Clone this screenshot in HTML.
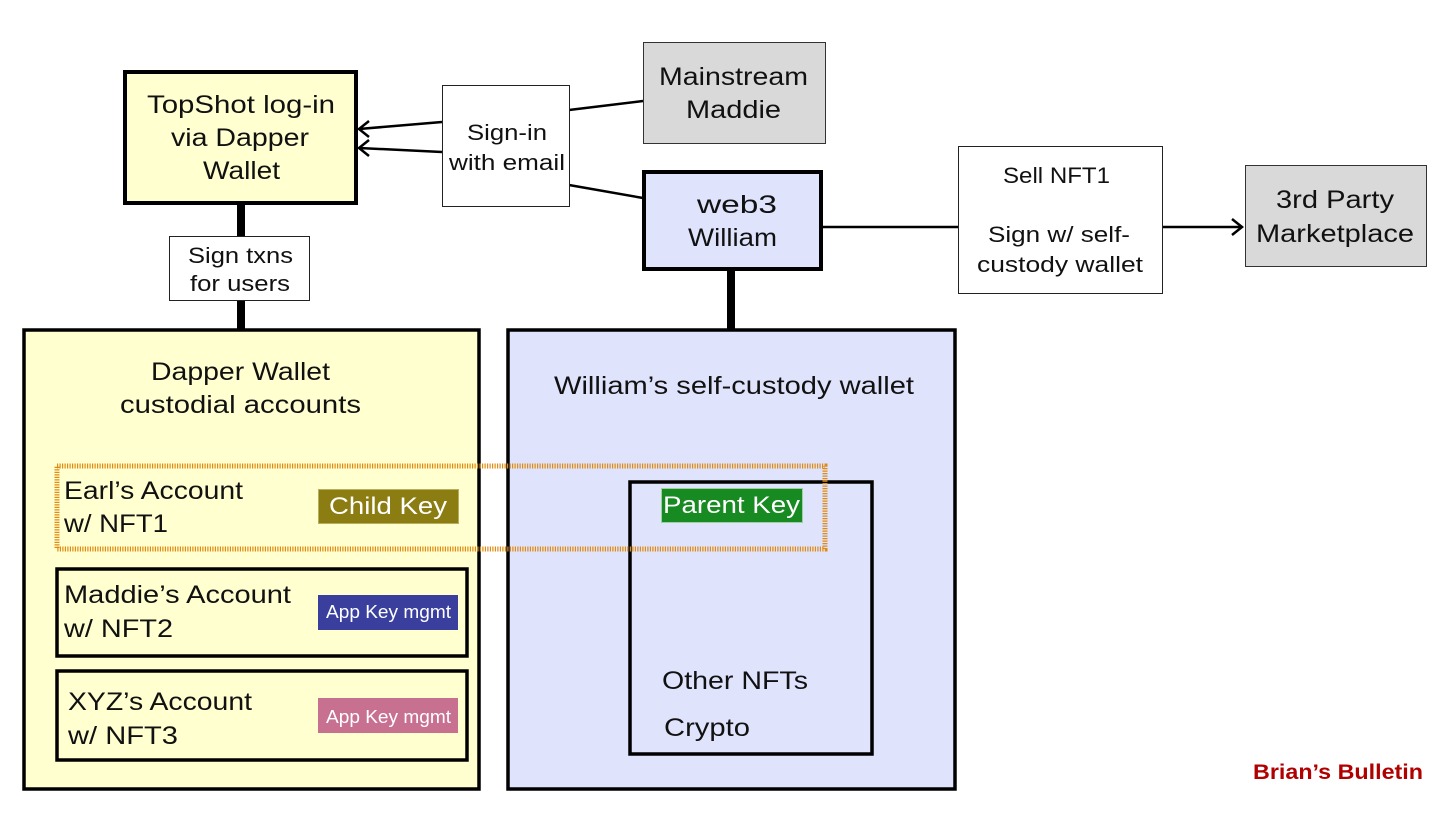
<!DOCTYPE html>
<html><head><meta charset="utf-8"><style>
html,body{margin:0;padding:0;background:#fff;}
svg{display:block;font-family:"Liberation Sans",sans-serif;}
</style></head><body>
<svg width="1456" height="819" viewBox="0 0 1456 819" xmlns="http://www.w3.org/2000/svg">
<rect width="1456" height="819" fill="#fff"/>
<line x1="241" y1="204" x2="241" y2="330" stroke="#000" stroke-width="8"/>
<line x1="731" y1="269" x2="731" y2="330" stroke="#000" stroke-width="8"/>
<g stroke="#000" stroke-width="2.5" fill="none">
<line x1="442" y1="122" x2="359" y2="129"/>
<polyline points="369,121 359,129 369,137"/>
<line x1="442" y1="152" x2="359" y2="148"/>
<polyline points="369,140 359,148 369,156"/>
<line x1="569" y1="110" x2="643" y2="101"/>
<line x1="569" y1="185" x2="643" y2="198"/>
<line x1="822" y1="227" x2="958" y2="227"/>
<line x1="1162" y1="227" x2="1242" y2="227"/>
<polyline points="1232,219 1242,227 1232,235"/>
</g>
<g lengthAdjust="spacingAndGlyphs">
<rect x="125" y="72" width="231" height="131" fill="#ffffd0" stroke="#000" stroke-width="4"/>
<g font-size="25" fill="#111">
<text x="147" y="113" textLength="188" lengthAdjust="spacingAndGlyphs">TopShot log-in</text>
<text x="171" y="146" textLength="138" lengthAdjust="spacingAndGlyphs">via Dapper</text>
<text x="203" y="179" textLength="77" lengthAdjust="spacingAndGlyphs">Wallet</text>
</g>
<rect x="442.5" y="85.5" width="127" height="121" fill="#fff" stroke="#222" stroke-width="1"/>
<g font-size="22" fill="#111">
<text x="467" y="140" textLength="80" lengthAdjust="spacingAndGlyphs">Sign-in</text>
<text x="449" y="170" textLength="116" lengthAdjust="spacingAndGlyphs">with email</text>
</g>
<rect x="643.5" y="42.5" width="182" height="101" fill="#d9d9d9" stroke="#333" stroke-width="1"/>
<g font-size="25" fill="#111">
<text x="659" y="85" textLength="149" lengthAdjust="spacingAndGlyphs">Mainstream</text>
<text x="686" y="118" textLength="95" lengthAdjust="spacingAndGlyphs">Maddie</text>
</g>
<rect x="644" y="172" width="177" height="97" fill="#dfe3fc" stroke="#000" stroke-width="4"/>
<g font-size="25" fill="#111">
<text x="697" y="213" textLength="80" lengthAdjust="spacingAndGlyphs">web3</text>
<text x="688" y="246" textLength="89" lengthAdjust="spacingAndGlyphs">William</text>
</g>
<rect x="958.5" y="146.5" width="204" height="147" fill="#fff" stroke="#222" stroke-width="1"/>
<g font-size="22" fill="#111">
<text x="1003" y="183" textLength="107" lengthAdjust="spacingAndGlyphs">Sell NFT1</text>
<text x="988" y="242" textLength="142" lengthAdjust="spacingAndGlyphs">Sign w/ self-</text>
<text x="977" y="272" textLength="166" lengthAdjust="spacingAndGlyphs">custody wallet</text>
</g>
<rect x="1245.5" y="165.5" width="181" height="101" fill="#d9d9d9" stroke="#333" stroke-width="1"/>
<g font-size="25" fill="#111">
<text x="1276" y="208" textLength="118" lengthAdjust="spacingAndGlyphs">3rd Party</text>
<text x="1256" y="242" textLength="158" lengthAdjust="spacingAndGlyphs">Marketplace</text>
</g>
<rect x="169.5" y="236.5" width="140" height="64" fill="#fff" stroke="#222" stroke-width="1"/>
<g font-size="22" fill="#111">
<text x="188" y="263" textLength="105" lengthAdjust="spacingAndGlyphs">Sign txns</text>
<text x="190" y="291" textLength="100" lengthAdjust="spacingAndGlyphs">for users</text>
</g>
<rect x="24" y="330" width="455" height="459" fill="#ffffd0" stroke="#000" stroke-width="3.5"/>
<g font-size="25" fill="#111">
<text x="151" y="380" textLength="179" lengthAdjust="spacingAndGlyphs">Dapper Wallet</text>
<text x="120" y="413" textLength="241" lengthAdjust="spacingAndGlyphs">custodial accounts</text>
</g>
<rect x="508" y="330" width="447" height="459" fill="#dfe3fc" stroke="#000" stroke-width="3.5"/>
<text x="554" y="394" font-size="25" fill="#111" textLength="360" lengthAdjust="spacingAndGlyphs">William’s self-custody wallet</text>
<rect x="630" y="482" width="242" height="272" fill="none" stroke="#000" stroke-width="3.5"/>
<text x="662" y="689" font-size="25" fill="#111" textLength="146" lengthAdjust="spacingAndGlyphs">Other NFTs</text>
<text x="664" y="736" font-size="25" fill="#111" textLength="86" lengthAdjust="spacingAndGlyphs">Crypto</text>
<text x="64" y="499" font-size="25" fill="#111" textLength="179" lengthAdjust="spacingAndGlyphs">Earl’s Account</text>
<text x="64" y="532" font-size="25" fill="#111" textLength="104" lengthAdjust="spacingAndGlyphs">w/ NFT1</text>
<rect x="318.5" y="489.5" width="140" height="34" fill="#8c7d12" stroke="#b8ad60" stroke-width="1"/>
<text x="329" y="514" font-size="24" fill="#fff" textLength="118" lengthAdjust="spacingAndGlyphs">Child Key</text>
<rect x="661.5" y="488.5" width="141" height="34" fill="#178a22" stroke="#9fd0a0" stroke-width="1"/>
<text x="663" y="513" font-size="24" fill="#fff" textLength="137" lengthAdjust="spacingAndGlyphs">Parent Key</text>
<rect x="57" y="569" width="410" height="87" fill="none" stroke="#000" stroke-width="3.5"/>
<text x="64" y="603" font-size="25" fill="#111" textLength="227" lengthAdjust="spacingAndGlyphs">Maddie’s Account</text>
<text x="64" y="637" font-size="25" fill="#111" textLength="109" lengthAdjust="spacingAndGlyphs">w/ NFT2</text>
<rect x="318" y="595" width="140" height="35" fill="#3a3f9e"/>
<text x="326" y="618" font-size="18" fill="#fff" textLength="125" lengthAdjust="spacingAndGlyphs">App Key mgmt</text>
<rect x="57" y="671" width="410" height="89" fill="none" stroke="#000" stroke-width="3.5"/>
<text x="68" y="710" font-size="25" fill="#111" textLength="184" lengthAdjust="spacingAndGlyphs">XYZ’s Account</text>
<text x="68" y="744" font-size="25" fill="#111" textLength="110" lengthAdjust="spacingAndGlyphs">w/ NFT3</text>
<rect x="318" y="698" width="140" height="35" fill="#c87090"/>
<text x="326" y="723" font-size="18" fill="#fff" textLength="125" lengthAdjust="spacingAndGlyphs">App Key mgmt</text>
<rect x="57" y="466" width="768" height="83" fill="none" stroke="#e08a10" stroke-width="5" stroke-dasharray="1.2 1.3"/>
<text x="1253" y="779" font-size="21" font-weight="bold" fill="#b00000" textLength="170" lengthAdjust="spacingAndGlyphs">Brian’s Bulletin</text>
</g>
</svg>
</body></html>
